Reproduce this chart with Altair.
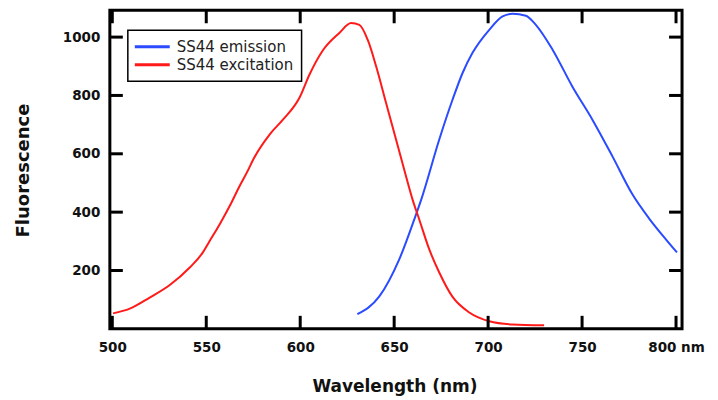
import altair as alt
import pandas as pd

# Excitation spectrum (red)
exc_nm = [500.4, 509.3, 519.9, 530.6, 541.2, 548.2, 551.8, 557.1, 562.4, 567.7, 572.2,
          574.8, 583.7, 590.8, 599.6, 604.9, 612.0, 620.8, 627.1, 631.5, 635.9, 640.4,
          645.7, 651.0, 656.3, 659.8, 663.4, 668.7, 674.0, 680.9, 690.0, 700.6, 712.8, 729.8]
exc_val = [53, 69, 107, 150, 210, 262, 301, 358, 420, 489, 543,
           578, 666, 717, 792, 871, 954, 1014, 1048, 1042, 991, 900,
           774, 649, 523, 443, 374, 272, 193, 111, 56, 26, 15, 12]

# Emission spectrum (blue)
emi_nm = [630.4, 642.1, 652.7, 660.7, 664.4, 674.0, 681.1, 686.4, 691.7, 700.6,
          707.7, 713.0, 720.1, 725.4, 734.3, 744.8, 755.5, 766.1, 776.7, 785.7, 794.7, 800.5]
emi_val = [50, 111, 238, 375, 443, 649, 786, 877, 946, 1025,
           1071, 1080, 1073, 1042, 957, 831, 717, 592, 462, 378, 306, 262]

series_names = ["SS44 emission", "SS44 excitation"]
series_colors = ["#2a4bff", "#ff1a1a"]

x_ticks = [500, 550, 600, 650, 700, 750, 800]
y_ticks = [200, 400, 600, 800, 1000]
x_domain = [498.7, 803.2]
y_domain = [0, 1092]

W, H = 573, 319
TICK = 13
FONT = "DejaVu Sans"

df = pd.concat([
    pd.DataFrame({"nm": emi_nm, "val": emi_val, "series": series_names[0]}),
    pd.DataFrame({"nm": exc_nm, "val": exc_val, "series": series_names[1]}),
])
xt = pd.DataFrame({"nm": x_ticks})
yt = pd.DataFrame({"val": y_ticks})

xscale = alt.Scale(domain=x_domain, nice=False, zero=False)
yscale = alt.Scale(domain=y_domain, nice=False, zero=False)

x_axis = alt.Axis(values=x_ticks, tickSize=0, domain=False, grid=False, format="d",
                  labelExpr="datum.value == 800 ? '800 nm' : datum.label",
                  labelFont=FONT, labelFontWeight="bold", labelFontSize=13.5,
                  labelColor="#111", labelPadding=12, labelFlush=False,
                  titleFont=FONT, titleFontWeight="bold", titleFontSize=17,
                  titleColor="#111", titleX=285, titleY=58,
                  titleBaseline="middle")
y_axis = alt.Axis(values=y_ticks, tickSize=0, domain=False, grid=False, format="d",
                  labelFont=FONT, labelFontWeight="bold", labelFontSize=13.5,
                  labelColor="#111", labelPadding=10, labelFlush=False,
                  titleFont=FONT, titleFontWeight="bold", titleFontSize=18,
                  titleColor="#111", titleX=-86, titleY=160,
                  titleBaseline="middle")

lines = alt.Chart(df).mark_line(strokeWidth=2, interpolate="monotone").encode(
    x=alt.X("nm:Q", scale=xscale, title="Wavelength (nm)", axis=x_axis),
    y=alt.Y("val:Q", scale=yscale, title="Fluorescence", axis=y_axis),
    color=alt.Color("series:N",
                    scale=alt.Scale(domain=series_names, range=series_colors),
                    legend=alt.Legend(title=None, orient="none", legendX=18, legendY=20,
                                      strokeColor="black", padding=8,
                                      fillColor="white",
                                      symbolType="M-2.5,0H2.5", symbolSize=196,
                                      symbolOffset=8,
                                      symbolStrokeWidth=3, labelOffset=16,
                                      labelFont=FONT, labelFontSize=15,
                                      labelColor="#222", rowPadding=1)),
)

rule_style = dict(color="black", strokeWidth=3)
bottom_ticks = alt.Chart(xt).mark_rule(**rule_style).encode(
    x=alt.X("nm:Q", scale=xscale, title="Wavelength (nm)", axis=x_axis),
    y=alt.value(H), y2=alt.value(H - TICK))
top_ticks = alt.Chart(xt).mark_rule(**rule_style).encode(
    x=alt.X("nm:Q", scale=xscale, title="Wavelength (nm)", axis=x_axis),
    y=alt.value(0), y2=alt.value(TICK))
left_ticks = alt.Chart(yt).mark_rule(**rule_style).encode(
    y=alt.Y("val:Q", scale=yscale, title="Fluorescence", axis=y_axis),
    x=alt.value(0), x2=alt.value(TICK))
right_ticks = alt.Chart(yt).mark_rule(**rule_style).encode(
    y=alt.Y("val:Q", scale=yscale, title="Fluorescence", axis=y_axis),
    x=alt.value(W), x2=alt.value(W - TICK))

chart = alt.layer(lines, bottom_ticks, top_ticks, left_ticks, right_ticks).properties(
    width=W, height=H,
    background="white",
    autosize=alt.AutoSizeParams(type="none"),
    padding={"left": 102, "top": 2, "right": 28, "bottom": 68},
).configure_view(stroke="black", strokeWidth=3).configure_legend(strokeWidth=1.5)

chart.save("out.html", embed_options={"renderer": "svg", "actions": False})
